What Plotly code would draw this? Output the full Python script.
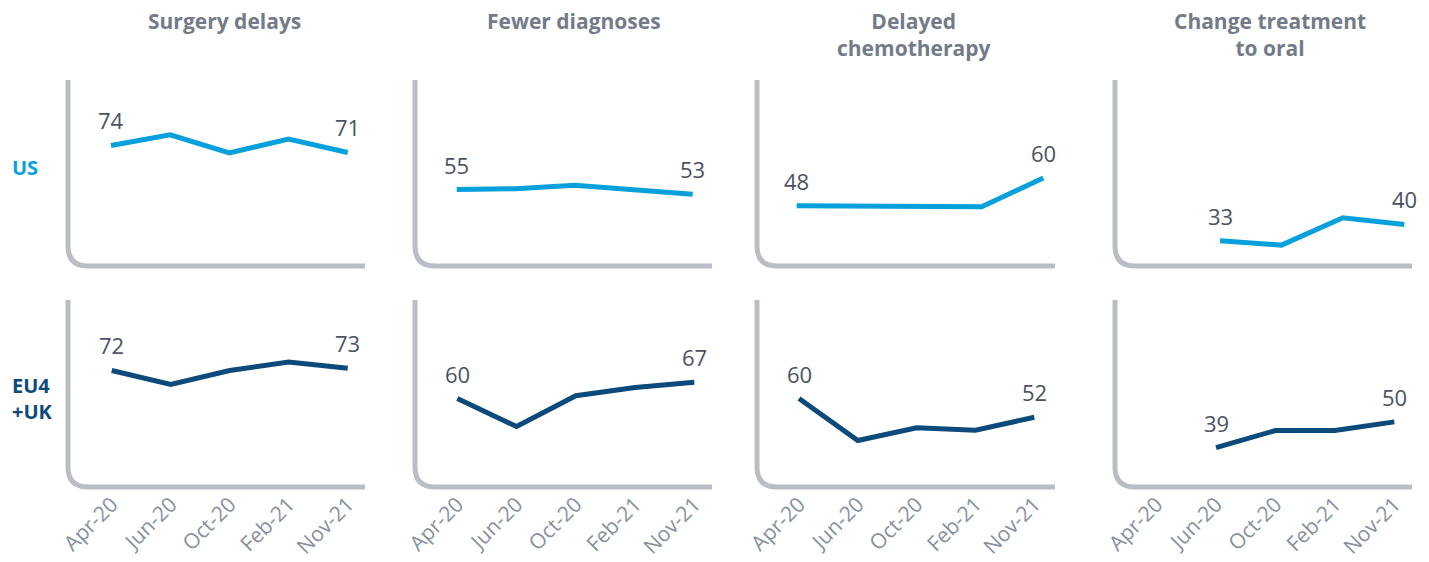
import plotly.graph_objects as go
from plotly.subplots import make_subplots

# ---------------- data ----------------
categories = ["Apr-20", "Jun-20", "Oct-20", "Feb-21", "Nov-21"]
panel_titles = ["Surgery delays", "Fewer diagnoses", "Delayed<br>chemotherapy", "Change treatment<br>to oral"]
row_labels = ["US", "EU4<br>+UK"]

us_surgery = [74, 78.6, 70.8, 76.8, 71]
us_diagnoses = [55, 55.4, 56.9, 55.0, 53]
us_chemo = [48, 48, 48, 47.6, 60]
us_oral = [None, 33, 31.1, 42.9, 40]

eu_surgery = [72, 66, 72, 75.6, 73]
eu_diagnoses = [60, 48, 61.2, 64.7, 67]
eu_chemo = [60, 42, 47.5, 46.4, 52]
eu_oral = [None, 39, 46.3, 46.3, 50]

# ---------------- style / layout ----------------
W, H = 1429, 562
US_COLOR = "#06a0dd"
EU_COLOR = "#0b4a7a"
AXIS_COLOR = "#babdc3"
LABEL_COLOR = "#4b5263"
TITLE_COLOR = "#737b88"
TICK_COLOR = "#87909d"
FONT = "Open Sans"

col_px = [(68, 365), (415, 712), (757, 1055), (1115, 1412)]
row_px = [(80, 266), (300, 487)]
cat_px = {
    (0, 0): (111, 347.7), (0, 1): (456.7, 692.7), (0, 2): (796.7, 1043.3), (0, 3): (1158.6, 1404.3),
    (1, 0): (111.7, 347.7), (1, 1): (457.3, 694.3), (1, 2): (799, 1034.3), (1, 3): (1156.6, 1394.3),
}
title_x = [224, 574, 913, 1270]
y_range = [22.1, 102.2]

rows_data = [
    [us_surgery, us_diagnoses, us_chemo, us_oral],
    [eu_surgery, eu_diagnoses, eu_chemo, eu_oral],
]
row_colors = [US_COLOR, EU_COLOR]

fig = make_subplots(rows=2, cols=4)

annotations = []
shapes = []
for r in range(2):
    for c in range(4):
        n = r * 4 + c + 1
        vals = rows_data[r][c]
        fig.add_trace(
            go.Scatter(x=categories, y=vals, mode="lines",
                       line=dict(color=row_colors[r], width=5),
                       connectgaps=False, hoverinfo="skip", showlegend=False),
            row=r + 1, col=c + 1)
        xl, xr = col_px[c]
        yt, yb = row_px[r]
        first, last = cat_px[(r, c)]
        sp = (last - first) / 4
        xsuf = "" if n == 1 else str(n)
        fig.layout["xaxis" + xsuf].update(
            domain=[xl / W, xr / W],
            range=[(xl - first) / sp, (xr - first) / sp],
            showgrid=False, zeroline=False, showline=False, ticks="",
            showticklabels=(r == 1), tickangle=-45, automargin=False,
            tickfont=dict(family=FONT, size=21, color=TICK_COLOR),
            fixedrange=True)
        fig.layout["yaxis" + xsuf].update(
            domain=[1 - yb / H, 1 - yt / H], automargin=False,
            range=y_range, showgrid=False, zeroline=False, showline=False,
            showticklabels=False, ticks="", fixedrange=True)
        # L-shaped rounded axis
        rr = 20
        path = (f"M {xl / W},{1 - yt / H} L {xl / W},{1 - (yb - rr) / H} "
                f"Q {xl / W},{1 - yb / H} {(xl + rr) / W},{1 - yb / H} L {xr / W},{1 - yb / H}")
        shapes.append(dict(type="path", path=path, xref="paper", yref="paper",
                           line=dict(color=AXIS_COLOR, width=5), layer="below"))
        # first and last value labels
        idx = [i for i, v in enumerate(vals) if v is not None]
        for i in (idx[0], idx[-1]):
            annotations.append(dict(
                x=categories[i], y=vals[i], xref="x" + xsuf, yref="y" + xsuf,
                text=str(int(round(vals[i]))), showarrow=False, yshift=25,
                font=dict(family=FONT, size=22, color=LABEL_COLOR)))

for c in range(4):
    annotations.append(dict(
        x=title_x[c] / W, y=1 - 5 / H, xref="paper", yref="paper",
        xanchor="center", yanchor="top", text="<b>" + panel_titles[c] + "</b>",
        showarrow=False, font=dict(family=FONT, size=21, color=TITLE_COLOR)))

row_label_y = [168, 398]
for r in range(2):
    annotations.append(dict(
        x=10 / W, y=1 - row_label_y[r] / H, xref="paper", yref="paper",
        xanchor="left", yanchor="middle", align="left",
        text="<b>" + row_labels[r] + "</b>", showarrow=False,
        font=dict(family=FONT, size=20, color=row_colors[r])))

fig.update_layout(
    width=W, height=H, margin=dict(l=0, r=0, t=0, b=0, autoexpand=False),
    paper_bgcolor="white", plot_bgcolor="white",
    font=dict(family=FONT),
    annotations=annotations, shapes=shapes, showlegend=False)

fig.write_html("out.html", config={"displayModeBar": False},
               post_script="document.body.style.margin='0';document.body.style.overflow='hidden';")
